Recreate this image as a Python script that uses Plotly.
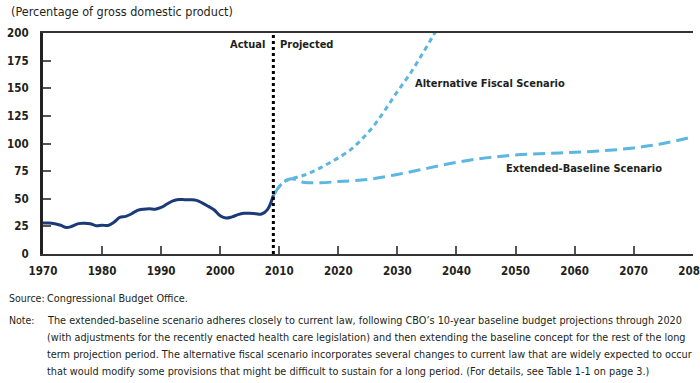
import plotly.graph_objects as go

# ---- data ----
actual_years = list(range(1970, 2010))
actual_debt = [28.0, 28.1, 27.4, 26.0, 23.9, 25.3, 27.5, 27.8, 27.4, 25.6,
               26.1, 25.8, 28.7, 33.1, 34.0, 36.4, 39.5, 40.6, 41.0, 40.6,
               42.1, 45.3, 48.1, 49.3, 49.2, 49.1, 48.5, 46.1, 43.1, 39.8,
               34.7, 32.5, 33.6, 35.6, 36.8, 36.9, 36.5, 36.2, 40.2, 53.0]

ext_years = [2009, 2010, 2011, 2012, 2013, 2014, 2015, 2017, 2020, 2025, 2030,
             2035, 2040, 2045, 2050, 2055, 2060, 2065, 2070, 2075, 2080]
ext_debt = [53.0, 61.0, 66.0, 68.0, 67.0, 65.0, 64.5, 64.5, 65.5, 67.5, 72.0,
            77.5, 83.0, 87.0, 89.5, 91.0, 92.0, 93.5, 96.0, 100.0, 106.0]

alt_years = [2009, 2010, 2011, 2012, 2013, 2014, 2015, 2016, 2017, 2018, 2019,
             2020, 2022, 2024, 2026, 2028, 2030, 2032, 2034, 2036, 2037]
alt_debt = [53.0, 61.0, 66.0, 68.0, 69.5, 71.0, 73.0, 75.5, 78.0, 81.0, 84.0,
            87.0, 94.0, 104.0, 116.0, 131.0, 147.0, 162.0, 179.0, 197.0, 206.0]

x_ticks = [1970, 1980, 1990, 2000, 2010, 2020, 2030, 2040, 2050, 2060, 2070, 2080]
y_ticks = [0, 25, 50, 75, 100, 125, 150, 175, 200]
divider_year = 2009

FONT = "DejaVu Sans Condensed, Liberation Sans Narrow, sans-serif"
DARK = "#231f20"
NAVY = "#1b3a78"
LIGHT = "#5bb6e0"

ML, MR, MT, MB = 43, 7, 33, 129
W, H = 700, 383
PW, PH = W - ML - MR, H - MT - MB

fig = go.Figure()
fig.add_trace(go.Scatter(x=alt_years, y=alt_debt, mode="lines",
                         line=dict(color=LIGHT, width=3, dash="5px,4px", shape="spline"),
                         hoverinfo="skip", showlegend=False))
fig.add_trace(go.Scatter(x=ext_years, y=ext_debt, mode="lines",
                         line=dict(color=LIGHT, width=3, dash="12px,6px", shape="spline"),
                         hoverinfo="skip", showlegend=False))
fig.add_trace(go.Scatter(x=actual_years, y=actual_debt, mode="lines",
                         line=dict(color=NAVY, width=3, shape="spline"),
                         hoverinfo="skip", showlegend=False))

fig.add_shape(type="line", x0=divider_year, x1=divider_year, y0=0, y1=1,
              xref="x", yref="paper", line=dict(color="black", width=3, dash="dot"))

fig.update_layout(
    width=W, height=H,
    margin=dict(l=ML, r=MR, t=MT, b=MB),
    paper_bgcolor="white", plot_bgcolor="white",
    font=dict(family=FONT, color=DARK, size=12),
    xaxis=dict(range=[1970, 2080.05], tickvals=x_ticks, showgrid=False, zeroline=False,
               showline=True, linecolor="#333", linewidth=2, mirror=True,
               ticks="inside", ticklen=8, tickwidth=1.5, tickcolor="#555",
               tickfont=dict(family=FONT, size=11.5, color=DARK, weight="bold"),
               ticklabelstandoff=5, automargin=False, ticklabeloverflow="allow"),
    yaxis=dict(range=[0, 200], tickvals=y_ticks, showgrid=False, zeroline=False,
               showline=True, linecolor="#222", linewidth=3,
               ticks="inside", ticklen=8, tickwidth=1.5, tickcolor="#555",
               tickfont=dict(family=FONT, size=11.5, color=DARK, weight="bold"),
               ticklabelstandoff=9, automargin=False),
)


def fa(text, px, py, anchor="left", size=12, bold=False):
    # px, py are pixel positions in the 700x383 window
    x = (px - ML) / PW
    y = (H - MB - py) / PH
    fig.add_annotation(text=text, x=x, y=y, xref="paper", yref="paper",
                       xanchor=anchor, yanchor="middle", showarrow=False,
                       font=dict(family=FONT, size=size, color=DARK,
                                 weight="bold" if bold else "normal"))


fa("(Percentage of gross domestic product)", 9, 12, size=12.5)
fa("Actual", 267, 44, anchor="right", size=11, bold=True)
fa("Projected", 278, 44, size=11, bold=True)
fa("Alternative Fiscal Scenario", 413, 83, size=11, bold=True)
fa("Extended-Baseline Scenario", 504, 168, size=11, bold=True)
fa("Source:", 7, 298, size=10.5)
fa("Congressional Budget Office.", 45, 298, size=10.8)
fa("Note:", 7, 320, size=10.5)
note_lines = [
    "The extended-baseline scenario adheres closely to current law, following CBO\u2019s 10-year baseline budget projections through 2020",
    "(with adjustments for the recently enacted health care legislation) and then extending the baseline concept for the rest of the long",
    "term projection period. The alternative fiscal scenario incorporates several changes to current law that are widely expected to occur",
    "that would modify some provisions that might be difficult to sustain for a long period. (For details, see Table 1-1 on page 3.)",
]
for i, line in enumerate(note_lines):
    fa(line, 45, 320 + 17 * i, size=10.8)

fig.write_html("out.html", config={"displayModeBar": False},
               post_script="document.body.style.margin='0';document.body.style.overflow='hidden';")
